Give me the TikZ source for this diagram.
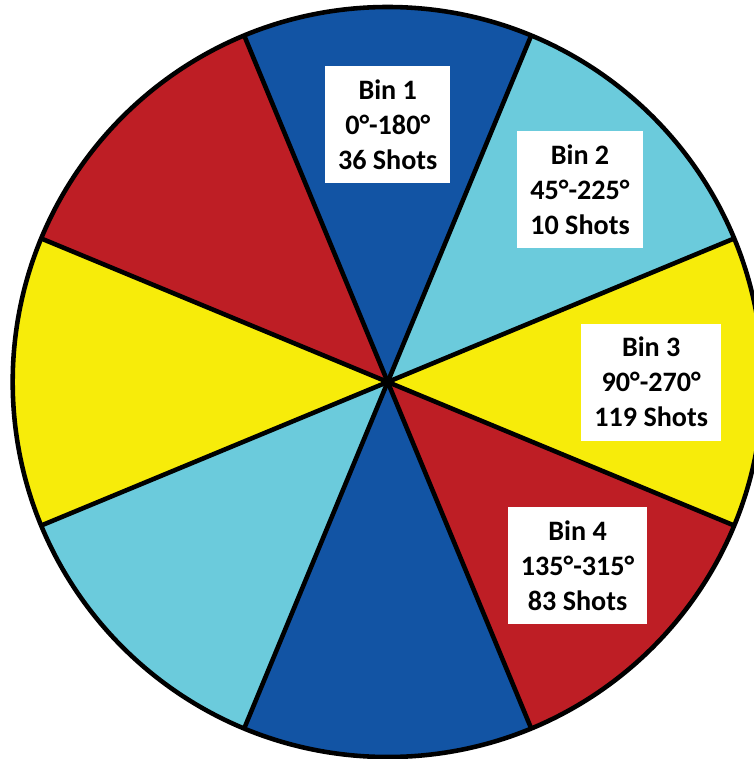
\documentclass[tikz,border=0pt]{standalone}
\usepackage{fontspec}
\setmainfont{Carlito}
\usepackage{xcolor}
\definecolor{binblue}{HTML}{1254A4}
\definecolor{binsky}{HTML}{6BCBDC}
\definecolor{binyellow}{HTML}{F7EC0A}
\definecolor{binred}{HTML}{BE1E25}
\tikzset{
  wedge/.style={draw=black, line width=2.6pt, line join=round},
  binbox/.style={
    fill=white,
    inner xsep=0.26cm,
    minimum height=2.34cm,
    align=center,
    font=\fontsize{16pt}{20pt}\selectfont\bfseries
  }
}

\begin{document}
\begin{tikzpicture}
  \fill[white] (-7.754,-7.54) rectangle (7.306,7.64);
  \useasboundingbox (-7.754,-7.54) rectangle (7.306,7.64);

  % sectors, 45 degrees each
  \foreach \a/\c in {-22.5/binyellow, 22.5/binsky, 67.5/binblue, 112.5/binred,
                     157.5/binyellow, 202.5/binsky, 247.5/binblue, 292.5/binred}
    \fill[\c] (0,0) -- (\a:7.5) arc[start angle=\a, end angle=\a+45, radius=7.5] -- cycle;

  \foreach \a in {22.5, 67.5, 112.5, 157.5}
    \draw[wedge] (\a:7.5) -- (\a+180:7.5);
  \draw[wedge] (0,0) circle[radius=7.5];

  \node[binbox] (bin1) at (90:5.14) {Bin 1\\0°-180°\\36 Shots};
  \node[binbox] (bin2) at (45:5.44) {Bin 2\\45°-225°\\10 Shots};
  \node[binbox] (bin3) at (0:5.27) {Bin 3\\90°-270°\\119 Shots};
  \node[binbox] (bin4) at (-44:5.28) {Bin 4\\135°-315°\\83 Shots};
\end{tikzpicture}
\end{document}
